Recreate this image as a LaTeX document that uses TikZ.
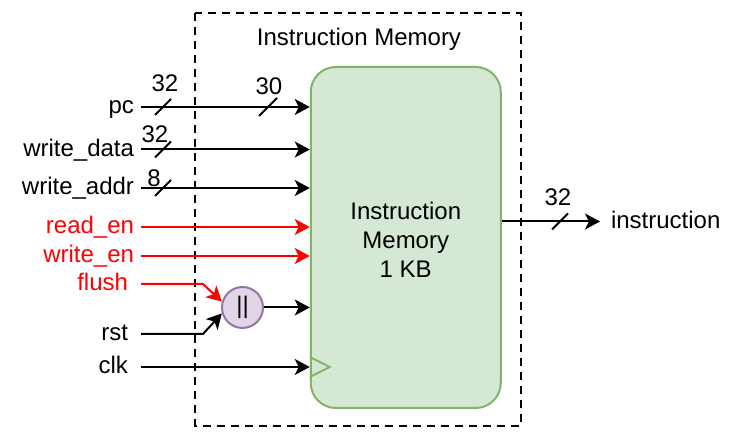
\documentclass[tikz,border=0pt]{standalone}
\usepackage{fontspec}
\setmainfont{Liberation Sans}
\usetikzlibrary{arrows.meta}
\definecolor{memfill}{HTML}{D5E8D4}
\definecolor{memline}{HTML}{82B366}
\definecolor{orfill}{HTML}{E1D5E7}
\definecolor{orline}{HTML}{9673A6}
\begin{document}
\begin{tikzpicture}[x=0.5pt, y=-0.5pt, font=\fontsize{12}{14.5}\selectfont,
        sig/.style={line width=1pt, -{Stealth[length=7.5pt, width=8pt, inset=2pt]}},
        lbl/.style={anchor=east, inner sep=0pt, outer sep=3.5pt, text height=1.5ex, text depth=.25ex},
        busw/.style={inner sep=0pt}]
    \useasboundingbox (0,0) rectangle (740,442);
    % outer frame
    \draw[line width=1pt, dash pattern=on 4pt off 3pt] (195,13.5) rectangle (521,426);
    \node[inner sep=0pt, text height=1.5ex, text depth=.25ex] (title) at (359,39) {Instruction Memory};
    \node[draw=memline, fill=memfill, line width=1pt, rounded corners=12.5pt, minimum width=95pt, minimum height=170.5pt,
        label={[align=center, yshift=-1pt]center:Instruction\\Memory\\1 KB}] (mem) at (405.75,237.5) {};
    % inputs
    \node[lbl] (pc) at (141,107) {pc};
    \node[lbl] (wdata) at (141,149.5) {write\_data};
    \node[lbl] (waddr) at (141,188) {write\_addr};
    \node[lbl, red] (rden) at (141,227) {read\_en};
    \node[lbl, red] (wren) at (141,256) {write\_en};
    \node[lbl, red, outer sep=6.5pt, yshift=-1.5pt] (flush) at (141,281) {flush};
    \node[lbl, outer sep=6.5pt] (rst) at (141,334) {rst};
    \node[lbl, outer sep=6.5pt] (clk) at (141,367) {clk};
    \node[circle, draw=orline, fill=orfill, line width=1pt, minimum size=20.5pt, inner sep=0pt] (orgate) at (242.5,307.5) {||};
    \draw[sig] (pc.east) -- (pc.east -| mem.west);
    \draw[sig] (wdata.east) -- (wdata.east -| mem.west);
    \draw[sig] (waddr.east) -- (waddr.east -| mem.west);
    \draw[sig, red] (rden.east) -- (rden.east -| mem.west);
    \draw[sig, red] (wren.east) -- (wren.east -| mem.west);
    \draw[sig, red] (flush.east) -- ++(62,0) -- (orgate.164);
    \draw[sig] (rst.east) -- ++(62,0) -- (orgate.196);
    \draw[sig] (orgate.east) -- (orgate.east -| mem.west);
    \draw[sig] (clk.east) -- (clk.east -| mem.west);
    \draw[memline, line width=1pt] (clk.east -| mem.west) ++(0,-10) -- ++(20,10) -- ++(-20,10);
    % bus widths
    \draw[line width=1pt] (163,107) ++(-8,8) -- ++(16,-16);
    \draw[line width=1pt] (268,107) ++(-9,9) -- ++(18,-18);
    \draw[line width=1pt] (163,149.5) ++(-8,8) -- ++(16,-16);
    \draw[line width=1pt] (163,188) ++(-8,8) -- ++(16,-16);
    \node[busw] (pcw) at (165,83.5) {32};
    \node[busw] (pcw2) at (269,86) {30};
    \node[busw] (wdataw) at (155,134.5) {32};
    \node[busw] (waddrw) at (154,178.5) {8};
    % output
    \node[lbl, anchor=west, outer sep=5.5pt] (instr) at (600,221.5) {instruction};
    \draw[sig] (instr.west -| mem.east) -- (instr.west);
    \draw[line width=1pt] (560,221.5) ++(-8,8) -- ++(16,-16);
    \node[busw] (instrw) at (558,197.5) {32};
\end{tikzpicture}
\end{document}
